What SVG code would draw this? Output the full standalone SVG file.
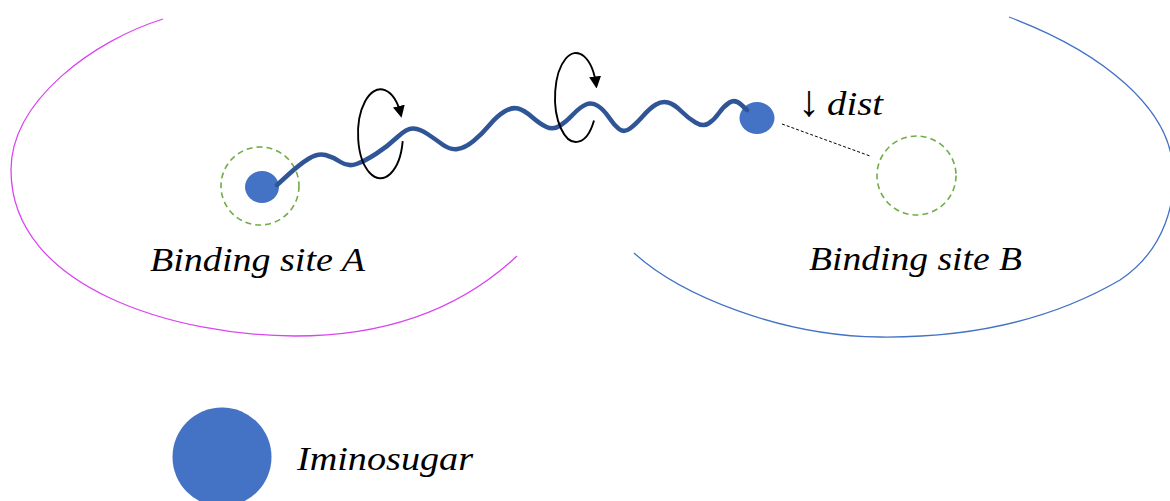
<svg xmlns="http://www.w3.org/2000/svg" width="1170" height="501" viewBox="0 0 1170 501">
  <style>
    .lbl { font-family: "Liberation Serif", "Times New Roman", serif; font-style: italic; font-size: 33px; fill: #000; }
    .arr { font-family: "Liberation Serif", "DejaVu Serif", serif; font-size: 44px; fill: #000; }
    .site { fill: none; stroke: #70AD47; stroke-width: 1.6; stroke-dasharray: 6 4; }
    .sugar { fill: #4472C4; }
    .rot { fill: none; stroke: #000; stroke-width: 1.9; marker-end: url(#head); }
    .wave { fill: none; stroke: #2F5597; stroke-width: 4.5; stroke-linecap: round; stroke-linejoin: round; }
  </style>
  <defs>
    <marker id="head" viewBox="0 0 10 10" refX="8" refY="5" markerWidth="12" markerHeight="12" markerUnits="userSpaceOnUse" orient="auto">
      <path d="M0,0 L10,5 L0,10 z" fill="#000"/>
    </marker>
  </defs>
  <rect width="1170" height="501" fill="#fff"/>

  <g id="pocket-A">
    <path d="M 163 19 C 95 40, 11 100, 11 170 C 11 290, 180 336, 295 336 C 400 336, 470 300, 517 256" fill="none" stroke="#D946EF" stroke-width="1.3"/>
  </g>
  <g id="pocket-B">
    <path d="M 634 253 C 680 295, 780 336, 880 337 C 980 338, 1060 315, 1120 280 C 1165 250, 1178 200, 1172 160 C 1165 110, 1110 55, 1009 17" fill="none" stroke="#4472C4" stroke-width="1.3"/>
  </g>

  <g id="site-A">
    <circle class="site" cx="260" cy="186" r="39"/>
    <text class="lbl" x="150" y="271" textLength="215" lengthAdjust="spacingAndGlyphs">Binding site A</text>
  </g>
  <g id="site-B">
    <circle class="site" cx="916.5" cy="175.5" r="39.5"/>
    <text class="lbl" x="809" y="270" textLength="213" lengthAdjust="spacingAndGlyphs">Binding site B</text>
  </g>

  <g id="sugar-A">
    <ellipse class="sugar" cx="262" cy="187" rx="17" ry="16"/>
  </g>
  <g id="sugar-B">
    <ellipse class="sugar" cx="757" cy="118" rx="17.5" ry="16"/>
  </g>

  <g id="connectors">
    <path class="wave" d="M 277 185 L 288.5 174.5 Q 300 164 309 158.5 Q 318 153 325.5 155 Q 333 157 340.5 162 Q 348 167 356.5 164 Q 365 161 376.5 153.5 Q 388 146 397.5 137 Q 407 128 413.5 128.5 Q 420 129 427.5 134 Q 435 139 442.5 144.5 Q 450 150 457.5 149 Q 465 148 473.5 141 Q 482 134 489.5 125 Q 497 116 504.5 111.5 Q 512 107 518 108.5 Q 524 110 532 117 Q 540 124 546.5 127 Q 553 130 559.5 126 Q 566 122 573 114.5 Q 580 107 586 104.5 Q 592 102 598 106 Q 604 110 609 117.5 Q 614 125 619 129 Q 624 133 630 128.5 Q 636 124 643 116 Q 650 108 656 104.5 Q 662 101 668 102.5 Q 674 104 681 111 Q 688 118 695.5 122.5 Q 703 127 708.5 123.5 Q 714 120 719 113 Q 724 106 729.5 102.5 Q 735 99 741 104.5 L 747 110"/>
    <line x1="782" y1="124" x2="870" y2="156" stroke="#000" stroke-width="1" stroke-dasharray="3 2"/>
    <path class="rot" d="M 402.7 141.2 A 22.5 44.5 0 1 1 401 115.4"/>
    <path class="rot" d="M 594 120.4 A 21 44.5 0 1 1 596.3 86"/>
  </g>

  <g id="dist">
    <text class="arr" x="798" y="116">↓</text>
    <text class="lbl" x="827" y="115" textLength="56" lengthAdjust="spacingAndGlyphs">dist</text>
  </g>

  <g id="legend">
    <circle class="sugar" cx="222" cy="457" r="49.5"/>
    <text class="lbl" x="297" y="470" textLength="176" lengthAdjust="spacingAndGlyphs">Iminosugar</text>
  </g>
</svg>
